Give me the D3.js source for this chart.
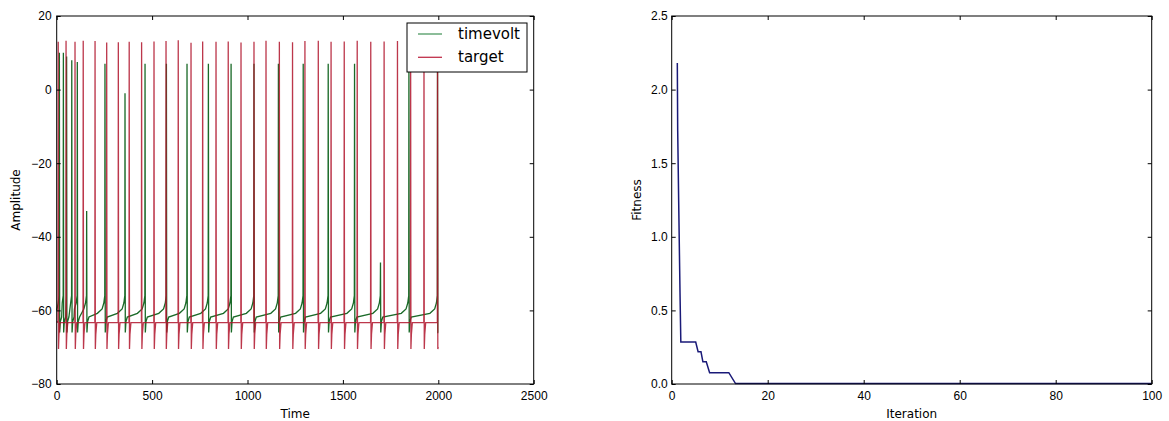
<!DOCTYPE html>
<meta charset="utf-8">
<style>
body { margin: 0; background: #fff; }
svg { font-family: "DejaVu Sans", sans-serif; }
.tick text { font-size: 12px; fill: #000; }
.axis path.domain { display: none; }
.tick line { stroke: #000; }
.label { font-size: 12px; }
.legend text { font-size: 15px; }
</style>
<body>
<script src="https://cdn.jsdelivr.net/npm/d3@7"></script>
<script>

// ---- left panel: voltage traces (spike times, ms) ----
var targetSpikeTimes = [8, 49, 96, 139, 201, 262, 323, 380, 445, 510, 573, 637, 704, 765, 835, 899,
                        966, 1034, 1097, 1167, 1236, 1301, 1371, 1438, 1507, 1575, 1646, 1716, 1786, 1855, 1925, 1996];
var targetPeaks = [13, 13.3, 13, 13.3, 13.2, 12.8, 12.9, 13, 12.9, 13.1, 13.2, 13.4, 12.7, 13.1, 13, 13.1,
                   12.8, 13, 13.3, 13, 12.9, 13.2, 13.3, 13, 13.1, 13.3, 13, 13.1, 13.2, 13, 13, 13];

var timevoltSpikeTimes = [14, 35, 52, 79, 108, 157, 253, 358, 463, 575, 683, 795, 914, 1034, 1162,
                          1292, 1423, 1561, 1697, 1846, 1996];
var timevoltPeaks = [10, 10, 9, 8, 7.5, -33, 7, -1, 7, 7, 7, 7, 7, 7, 7, 7, 7, 7, -47, 7, 7];

// spike shape around each spike: offsets (ms) and voltages
var timevoltPreDt = [-40, -15, -6, -1];
var timevoltPreV = [-60.8, -59.6, -58, -56];
var timevoltPostDt = [1.5, 5, 12];
var timevoltPostV = [-66, -63, -61.8];

var targetPreDt = [-1];
var targetPreV = [-63.3];
var targetPostDt = [1.5, 4, 9];
var targetPostV = [-70.5, -66.5, -63.3];

// ---- right panel: fitness per iteration ----
var iterations = [1.17, 1.25, 1.45, 1.73, 1.9, 5.0, 5.5, 6.1, 6.5, 7.2, 7.9, 11.9, 13.3, 100];
var fitness = [2.18, 1.72, 1.25, 0.62, 0.285, 0.285, 0.219, 0.219, 0.151, 0.151, 0.077, 0.077, 0.003, 0.003];

var voltTicks = [-80, -60, -40, -20, 0, 20];
var timeTicks = [0, 500, 1000, 1500, 2000, 2500];
var fitTicks = [0, 0.5, 1.0, 1.5, 2.0, 2.5];
var iterTicks = [0, 20, 40, 60, 80, 100];

var width = 1169, height = 421;
var plotTop = 16, plotBottom = 384;

var svg = d3.select("body").append("svg")
    .attr("width", width)
    .attr("height", height);

svg.append("rect").attr("width", width).attr("height", height).attr("fill", "#fff");

// build a trace from spike times + a spike shape
function buildTrace(times, peaks, preDt, preV, postDt, postV, startV, endT, endV) {
  var pts = [[0, startV]];
  for (var i = 0; i < times.length; i++) {
    var t = times[i];
    var nextT = i < times.length - 1 ? times[i + 1] : endT + 100;
    for (var j = 0; j < preDt.length; j++) {
      var tt = t + preDt[j];
      if (tt > pts[pts.length - 1][0]) pts.push([tt, preV[j]]);
    }
    pts.push([t, peaks[i]]);
    for (var k = 0; k < postDt.length; k++) {
      var tp = t + postDt[k];
      if (tp < nextT - 1 && tp < endT) pts.push([tp, postV[k]]);
    }
  }
  pts.push([endT, endV]);
  return pts;
}

function drawFrame(g, x, y, xTicks, yTicks, yFmt, yPad) {
  var x0 = x.range()[0], x1 = x.range()[1];
  g.append("g").attr("class", "axis")
      .attr("transform", "translate(0," + plotBottom + ")")
      .call(d3.axisBottom(x).tickValues(xTicks).tickSize(-4).tickPadding(7).tickFormat(d3.format("d")));
  g.append("g").attr("class", "axis")
      .attr("transform", "translate(0," + plotTop + ")")
      .call(d3.axisTop(x).tickValues(xTicks).tickSize(-4).tickFormat(""));
  g.append("g").attr("class", "axis")
      .attr("transform", "translate(" + x0 + ",0)")
      .call(d3.axisLeft(y).tickValues(yTicks).tickSize(-4).tickPadding(yPad).tickFormat(yFmt));
  g.append("g").attr("class", "axis")
      .attr("transform", "translate(" + x1 + ",0)")
      .call(d3.axisRight(y).tickValues(yTicks).tickSize(-4).tickFormat(""));
  g.append("rect")
      .attr("x", x0).attr("y", plotTop)
      .attr("width", x1 - x0).attr("height", plotBottom - plotTop)
      .attr("fill", "none").attr("stroke", "#000").attr("stroke-width", 1);
}

// ---------- left chart ----------
var xTime = d3.scaleLinear().domain([0, 2500]).range([56.7, 533.7]);
var yVolt = d3.scaleLinear().domain([-80, 20]).range([plotBottom, plotTop]);

var left = svg.append("g");

var line1 = d3.line()
    .x(function(d) { return xTime(d[0]); })
    .y(function(d) { return yVolt(d[1]); });

var greenTrace = buildTrace(timevoltSpikeTimes, timevoltPeaks, timevoltPreDt, timevoltPreV,
                            timevoltPostDt, timevoltPostV, -60, 2000, -66);
var redTrace = buildTrace(targetSpikeTimes, targetPeaks, targetPreDt, targetPreV,
                          targetPostDt, targetPostV, -63, 2000, -70);

left.append("path").datum(greenTrace)
    .attr("d", line1)
    .attr("fill", "none")
    .attr("stroke", "#1a6a28")
    .attr("stroke-width", 1.3);

left.append("path").datum(redTrace)
    .attr("d", line1)
    .attr("fill", "none")
    .attr("stroke", "#b0142c")
    .attr("stroke-opacity", 0.85)
    .attr("stroke-width", 1.3);

drawFrame(left, xTime, yVolt, timeTicks, voltTicks, d3.format("d"), 5);

left.append("text").attr("class", "label")
    .attr("x", xTime(1250)).attr("y", 418)
    .attr("text-anchor", "middle").text("Time");
left.append("text").attr("class", "label")
    .attr("transform", "translate(20," + ((plotTop + plotBottom) / 2) + ") rotate(-90)")
    .attr("text-anchor", "middle").text("Amplitude");

// legend
var legend = left.append("g").attr("class", "legend");
legend.append("rect")
    .attr("x", 407).attr("y", 23).attr("width", 120).attr("height", 49)
    .attr("fill", "#fff").attr("stroke", "#000").attr("stroke-width", 1);
var legendNames = ["timevolt", "target"];
var legendColours = ["#4e9a62", "#c0304a"];
legendNames.forEach(function(name, i) {
  var ly = 34 + i * 23.3;
  legend.append("line")
      .attr("x1", 418).attr("x2", 442).attr("y1", ly).attr("y2", ly)
      .attr("stroke", legendColours[i]).attr("stroke-width", 1.3);
  legend.append("text")
      .attr("x", 458).attr("y", ly + 5)
      .text(name);
});

// ---------- right chart ----------
var xIter = d3.scaleLinear().domain([0, 100]).range([671.7, 1151.7]);
var yFit = d3.scaleLinear().domain([0, 2.5]).range([plotBottom, plotTop]);

var right = svg.append("g");

var fitData = iterations.map(function(d, i) { return [d, fitness[i]]; });

right.append("path").datum(fitData)
    .attr("d", d3.line()
        .x(function(d) { return xIter(d[0]); })
        .y(function(d) { return yFit(d[1]); }))
    .attr("fill", "none")
    .attr("stroke", "#1a1a78")
    .attr("stroke-width", 1.5);

drawFrame(right, xIter, yFit, iterTicks, fitTicks, d3.format(".1f"), 4);

right.append("text").attr("class", "label")
    .attr("x", xIter(50)).attr("y", 418)
    .attr("text-anchor", "middle").text("Iteration");
right.append("text").attr("class", "label")
    .attr("transform", "translate(641," + ((plotTop + plotBottom) / 2) + ") rotate(-90)")
    .attr("text-anchor", "middle").text("Fitness");

</script>
</body>
